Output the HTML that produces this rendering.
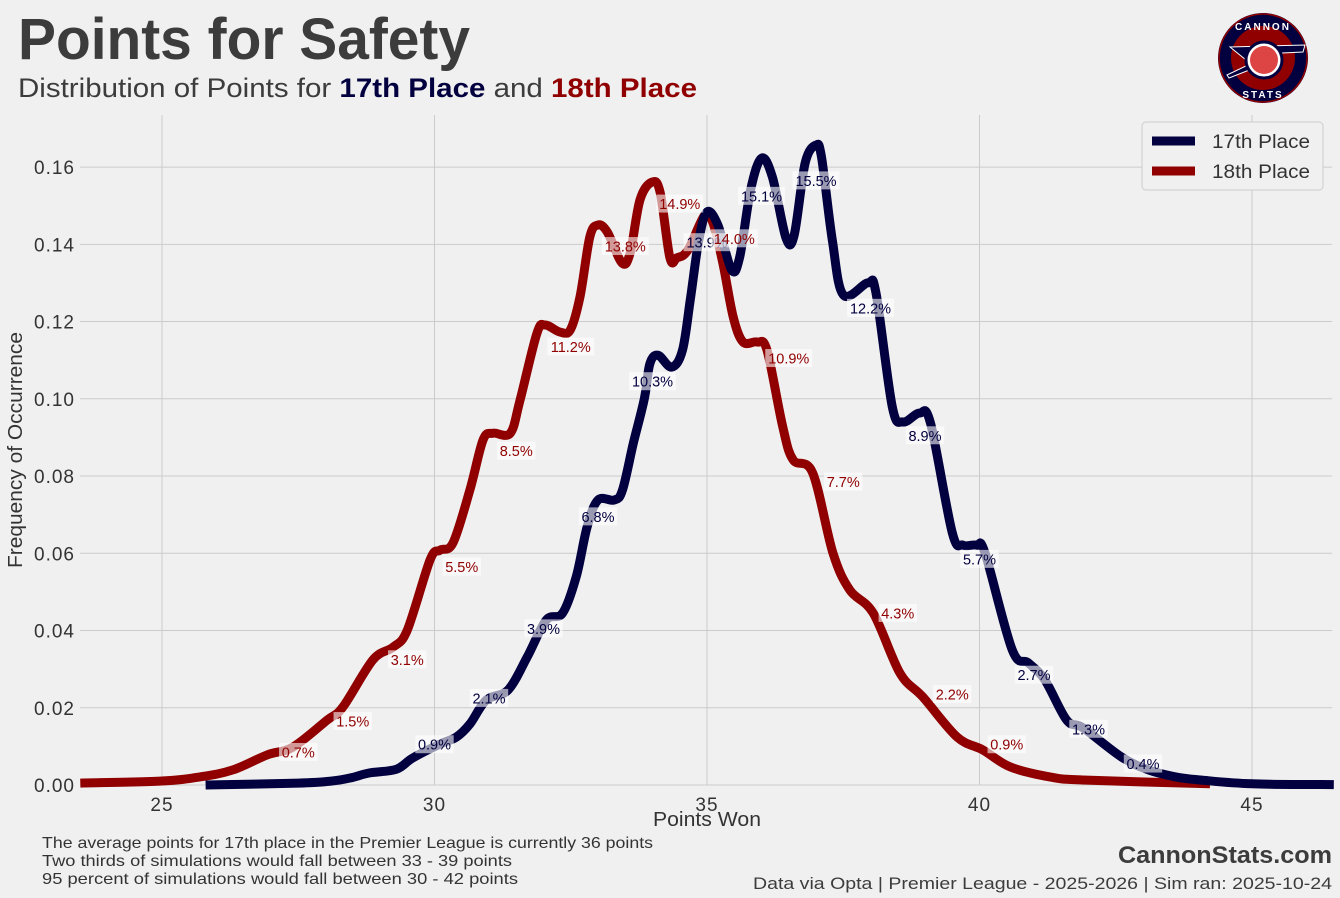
<!DOCTYPE html>
<html><head><meta charset="utf-8"><style>
html,body{margin:0;padding:0;background:#f0f0f0;}
svg{display:block;font-family:"Liberation Sans",sans-serif;}
</style></head><body>
<svg id="chart" width="1340" height="898" viewBox="0 0 1340 898">
<rect x="0" y="0" width="1340" height="898" fill="#f0f0f0"/>
<text x="18" y="59" font-size="58" font-weight="bold" fill="#3c3c3c" textLength="452" lengthAdjust="spacingAndGlyphs">Points for Safety</text>
<text x="18" y="97" font-size="27" fill="#3c3c3c" textLength="679" lengthAdjust="spacingAndGlyphs">Distribution of Points for <tspan font-weight="bold" fill="#02003f">17th Place</tspan> and <tspan font-weight="bold" fill="#900000">18th Place</tspan></text>
<g>
<circle cx="1263" cy="58" r="45" fill="#02003f"/>
<circle cx="1263" cy="58" r="44" fill="none" stroke="#900000" stroke-width="1.5"/>
<circle cx="1263" cy="58" r="32" fill="#900000"/>
<path d="M1230 47 L1305 45 L1303 52 L1282 53 L1246 60 Z" fill="#02003f" stroke="#fff" stroke-width="1"/>
<path d="M1227 75 L1250 64 L1252 69 L1229 78 Z" fill="#02003f" stroke="#fff" stroke-width="1"/>
<circle cx="1264" cy="60" r="18" fill="#fff" stroke="#02003f" stroke-width="3"/>
<circle cx="1264" cy="60" r="14" fill="#d44"/>
<text x="1263" y="30" font-size="10" font-weight="bold" fill="#fff" text-anchor="middle" letter-spacing="2">CANNON</text>
<text x="1263" y="98" font-size="10" font-weight="bold" fill="#fff" text-anchor="middle" letter-spacing="2">STATS</text>
</g>
<g id="grid"></g>
<g id="axes"></g>
<g id="series"></g>
<g id="labels"></g>
<text x="707" y="826" font-size="20" fill="#333" text-anchor="middle" textLength="108" lengthAdjust="spacingAndGlyphs">Points Won</text>
<text transform="translate(22,450) rotate(-90)" font-size="20" fill="#333" text-anchor="middle" textLength="236" lengthAdjust="spacingAndGlyphs">Frequency of Occurrence</text>
<g>
<rect x="1142" y="122" width="181" height="68" rx="4" fill="#f0f0f0" stroke="#cccccc"/>
<g>
<line x1="1152" y1="141" x2="1195" y2="141" stroke="#02003f" stroke-width="9"/>
<text x="1212" y="148" font-size="19" fill="#333" textLength="98" lengthAdjust="spacingAndGlyphs">17th Place</text></g>
<g>
<line x1="1152" y1="171" x2="1195" y2="171" stroke="#900000" stroke-width="9"/>
<text x="1212" y="178" font-size="19" fill="#333" textLength="98" lengthAdjust="spacingAndGlyphs">18th Place</text></g>
</g>
<g font-size="16" fill="#333">
<text x="42" y="848" textLength="611" lengthAdjust="spacingAndGlyphs">The average points for 17th place in the Premier League is currently 36 points</text>
<text x="42" y="866" textLength="470" lengthAdjust="spacingAndGlyphs">Two thirds of simulations would fall between 33 - 39 points</text>
<text x="42" y="884" textLength="476" lengthAdjust="spacingAndGlyphs">95 percent of simulations would fall between 30 - 42 points</text>
</g>
<text x="1332" y="863" font-size="24" font-weight="bold" fill="#3c3c3c" text-anchor="end" textLength="214" lengthAdjust="spacingAndGlyphs">CannonStats.com</text>
<text x="1332" y="889" font-size="17" fill="#3c3c3c" text-anchor="end" textLength="579" lengthAdjust="spacingAndGlyphs">Data via Opta | Premier League - 2025-2026 | Sim ran: 2025-10-24</text>
</svg>
<script>
const xTicks = [25, 30, 35, 40, 45];
const yTicks = [0, 0.02, 0.04, 0.06, 0.08, 0.10, 0.12, 0.14, 0.16];
const x17 = [25.8,27.5,28.1,28.45,28.8,29.3,29.6,30.1,30.4,30.65,30.95,31.35,31.7,32.05,32.35,32.6,32.8,33.0,33.3,33.45,33.65,33.85,33.95,34.1,34.35,34.55,34.7,34.85,35.0,35.2,35.45,35.6,35.8,36.0,36.2,36.45,36.6,36.8,37.0,37.1,37.3,37.5,37.95,38.1,38.4,38.6,38.9,39.1,39.5,39.7,39.95,40.1,40.6,40.9,41.2,41.6,41.9,42.6,43.1,43.6,44.05,45,46.5];
const y17 = [0,0.0005,0.001,0.0018,0.0031,0.0041,0.007,0.0106,0.0124,0.0158,0.022,0.0246,0.0331,0.0427,0.0445,0.0539,0.0668,0.0738,0.0738,0.0764,0.0886,0.1,0.109,0.1113,0.1082,0.1126,0.1264,0.1411,0.1484,0.145,0.1334,0.1367,0.1541,0.1623,0.1574,0.1416,0.1424,0.161,0.1657,0.1626,0.1411,0.1269,0.13,0.1274,0.0979,0.094,0.0963,0.0937,0.0653,0.0621,0.0621,0.0601,0.035,0.0316,0.0272,0.0168,0.0148,0.0073,0.0039,0.0021,0.0013,0.0003,0.0001];
const x18 = [23.5,24.96,25.7,26.3,26.93,27.4,28.03,28.32,28.87,29.24,29.5,29.92,30.1,30.34,30.65,30.89,31.07,31.39,31.57,31.88,32.03,32.3,32.49,32.67,32.85,33.0,33.17,33.44,33.59,33.77,33.99,34.14,34.32,34.45,34.65,34.96,35.11,35.29,35.48,35.66,35.92,36.1,36.39,36.58,36.94,37.31,37.62,38.05,38.54,38.96,39.59,40.06,40.56,41.29,41.9,44.23];
const y18 = [0.0005,0.001,0.0021,0.0039,0.0078,0.0098,0.0168,0.0202,0.0324,0.0357,0.0401,0.0583,0.0608,0.0627,0.0764,0.0893,0.0911,0.0911,0.0997,0.117,0.1191,0.1173,0.1178,0.1264,0.1419,0.145,0.1432,0.1352,0.1378,0.1515,0.1561,0.1535,0.1365,0.1365,0.1385,0.1476,0.1455,0.1352,0.1212,0.1147,0.1147,0.1126,0.0927,0.0842,0.0808,0.0601,0.0505,0.0445,0.029,0.0228,0.0124,0.0091,0.0047,0.0021,0.0013,0.0003];
const labelX17 = [30,31,32,33,34,35,36,37,38,39,40,41,42,43];
const labelV17 = [0.9,2.1,3.9,6.8,10.3,13.9,15.1,15.5,12.2,8.9,5.7,2.7,1.3,0.4];
const labelX18 = [27.5,28.5,29.5,30.5,31.5,32.5,33.5,34.5,35.5,36.5,37.5,38.5,39.5,40.5];
const labelV18 = [0.7,1.5,3.1,5.5,8.5,11.2,13.8,14.9,14.0,10.9,7.7,4.3,2.2,0.9];

const NS = "http://www.w3.org/2000/svg";
const X0 = 80, X1 = 1332, YT = 115, YB = 785;
function sx(v){ return 162 + (v - 25) * 54.5; }
function sy(v){ return 785 - v * 3862; }
function mk(tag, attrs, parent){ const e = document.createElementNS(NS, tag); for (const k in attrs) e.setAttribute(k, attrs[k]); parent.appendChild(e); return e; }

const grid = document.getElementById('grid');
const axes = document.getElementById('axes');
xTicks.forEach(t => {
  const l = mk('line', {x1: sx(t), x2: sx(t), y1: YT, y2: YB, stroke: '#cbcbcb', 'stroke-width': 1}, grid);
  
  
  const tx = mk('text', {x: sx(t), y: 811, 'font-size': 19, fill: '#333', 'text-anchor': 'middle', 'letter-spacing': 1}, axes);
  tx.textContent = t;
  
  
});
yTicks.forEach(t => {
  const l = mk('line', {x1: X0, x2: X1, y1: sy(t), y2: sy(t), stroke: '#cbcbcb', 'stroke-width': 1}, grid);
  
  
  const tx = mk('text', {x: 75, y: sy(t) + 7, 'font-size': 19, fill: '#333', 'text-anchor': 'end', 'letter-spacing': 1}, axes);
  tx.textContent = t.toFixed(2);
  
  
});

function smoothPath(xs, ys){
  const p = xs.map((x, i) => [sx(x), sy(ys[i])]);
  let d = 'M' + p[0][0].toFixed(1) + ' ' + p[0][1].toFixed(1);
  for (let i = 0; i < p.length - 1; i++){
    const p0 = p[i-1] || p[i], p1 = p[i], p2 = p[i+1], p3 = p[i+2] || p2;
    const c1 = [p1[0] + (p2[0]-p0[0])/6, p1[1] + (p2[1]-p0[1])/6];
    const c2 = [p2[0] - (p3[0]-p1[0])/6, p2[1] - (p3[1]-p1[1])/6];
    d += ' C' + c1.map(v=>v.toFixed(1)).join(' ') + ' ' + c2.map(v=>v.toFixed(1)).join(' ') + ' ' + p2[0].toFixed(1) + ' ' + p2[1].toFixed(1);
  }
  return d;
}
const series = document.getElementById('series');
const l18 = mk('path', {d: smoothPath(x18, y18), fill: 'none', stroke: '#900000', 'stroke-width': 9, 'stroke-linejoin': 'round'}, series);


const l17 = mk('path', {d: smoothPath(x17, y17), fill: 'none', stroke: '#02003f', 'stroke-width': 9, 'stroke-linejoin': 'round'}, series);



const labels = document.getElementById('labels');
function addLabel(x, v, color, name){
  const cx = sx(x), cy = sy(v/100) - 6;
  const g = mk('g', {}, labels);
  
  
  const txt = v.toFixed(1) + '%';
  const w = txt.length * 8.6 + 4;
  mk('rect', {x: cx - w/2, y: cy - 9, width: w, height: 18, fill: '#ffffff', 'fill-opacity': 0.6}, g);
  const t = mk('text', {x: cx, y: cy + 5.5, 'font-size': 14.5, fill: color, 'text-anchor': 'middle'}, g);
  t.textContent = txt;
}
labelX17.forEach((x, i) => addLabel(x, labelV17[i], '#02003f', 'label-17th'));
labelX18.forEach((x, i) => addLabel(x, labelV18[i], '#900000', 'label-18th'));
</script>
</body></html>
